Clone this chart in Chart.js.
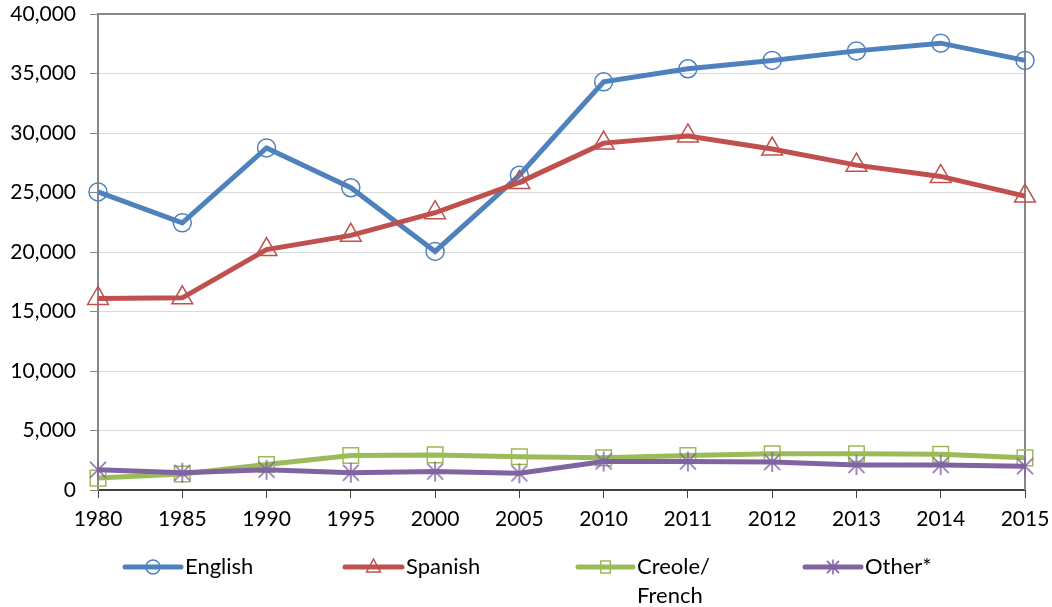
<!DOCTYPE html>
<html>
<head>
<meta charset="utf-8">
<script src="https://cdn.jsdelivr.net/npm/chart.js@4.4.1/dist/chart.umd.min.js"></script>
<style>
  html, body { margin: 0; padding: 0; background: #fff; }
  #wrap { width: 1052px; height: 607px; position: relative; }
</style>
</head>
<body>
<div id="wrap"><canvas id="c" width="1052" height="607"></canvas></div>
<script>
const years = ['1980','1985','1990','1995','2000','2005','2010','2011','2012','2013','2014','2015'];
const english = [25050, 22450, 28750, 25400, 20050, 26450, 34300, 35400, 36100, 36900, 37550, 36100];
const spanish = [16100, 16150, 20200, 21400, 23300, 25850, 29150, 29750, 28650, 27300, 26350, 24700];
const creole  = [1000, 1350, 2150, 2900, 2950, 2800, 2700, 2900, 3050, 3050, 3000, 2700];
const other   = [1700, 1450, 1700, 1450, 1550, 1400, 2400, 2400, 2350, 2100, 2100, 2000];
const seriesNames = ['English', 'Spanish', 'Creole/\nFrench', 'Other*'];
const yTicks = [0, 5000, 10000, 15000, 20000, 25000, 30000, 35000, 40000];

const COLORS = ['#4F81BD', '#C0504D', '#9BBB59', '#8064A2'];
const FONT = 'Lato, "Open Sans", sans-serif';

function starCanvas(r, color) {
  const s = Math.ceil(r * 2 + 4);
  const cv = document.createElement('canvas');
  cv.width = s; cv.height = s;
  const g = cv.getContext('2d');
  g.strokeStyle = color; g.lineWidth = 1.5;
  const c = s / 2;
  const d = r * 0.8;
  g.beginPath();
  g.moveTo(c - d, c - d); g.lineTo(c + d, c + d);
  g.moveTo(c + d, c - d); g.lineTo(c - d, c + d);
  g.moveTo(c, c - r); g.lineTo(c, c + r);
  g.stroke();
  return cv;
}

function drawMarker(ctx, style, x, y, r, color) {
  ctx.save();
  ctx.strokeStyle = color; ctx.lineWidth = 1.5;
  ctx.beginPath();
  if (style === 'circle') {
    ctx.arc(x, y, r, 0, Math.PI * 2);
  } else if (style === 'triangle') {
    ctx.moveTo(x, y - r);
    ctx.lineTo(x + r * 0.866, y + r * 0.5 + 1);
    ctx.lineTo(x - r * 0.866, y + r * 0.5 + 1);
    ctx.closePath();
  } else if (style === 'rect') {
    ctx.rect(x - r * 0.6, y - r * 0.75, r * 1.2, r * 1.5);
  } else if (style === 'star') {
    const d = r * 0.8;
    ctx.moveTo(x - d, y - d); ctx.lineTo(x + d, y + d);
    ctx.moveTo(x + d, y - d); ctx.lineTo(x - d, y + d);
    ctx.moveTo(x, y - r); ctx.lineTo(x, y + r);
  }
  ctx.stroke();
  ctx.restore();
}

const legendItems = [
  { name: seriesNames[0], color: COLORS[0], style: 'circle', x1: 125, x2: 181, tx: 185, mr: 7 },
  { name: seriesNames[1], color: COLORS[1], style: 'triangle', x1: 345, x2: 402, tx: 406, mr: 8 },
  { name: seriesNames[2], color: COLORS[2], style: 'rect', x1: 578, x2: 633, tx: 637, mr: 8 },
  { name: seriesNames[3], color: COLORS[3], style: 'star', x1: 805, x2: 861, tx: 865, mr: 7 }
];

const framePlugin = {
  id: 'frame',
  beforeDatasetsDraw(chart) {
    const { ctx, chartArea: a } = chart;
    ctx.save();
    ctx.strokeStyle = '#878787';
    ctx.lineWidth = 2;
    ctx.beginPath();
    ctx.moveTo(a.left, a.top);
    ctx.lineTo(a.right, a.top);
    ctx.lineTo(a.right, a.bottom);
    ctx.stroke();
    ctx.restore();
  },
  afterDraw(chart) {
    const ctx = chart.ctx;
    const y = 567;
    ctx.save();
    legendItems.forEach(it => {
      ctx.strokeStyle = it.color;
      ctx.lineWidth = 5;
      ctx.lineCap = 'round';
      ctx.beginPath();
      ctx.moveTo(it.x1, y);
      ctx.lineTo(it.x2, y);
      ctx.stroke();
      drawMarker(ctx, it.style, (it.x1 + it.x2) / 2, y, it.mr, it.color);
      ctx.fillStyle = '#000';
      ctx.font = '22px ' + FONT;
      ctx.textBaseline = 'middle';
      ctx.textAlign = 'left';
      it.name.split('\n').forEach((ln, i) => ctx.fillText(ln, it.tx, y + i * 29));
    });
    ctx.restore();
  }
};

const markerStyles = ['circle', 'triangle', 'rect', starCanvas(10, COLORS[3])];
const markerRadius = [9, 12, 11, 10];
const dataArrays = [english, spanish, creole, other];

new Chart(document.getElementById('c'), {
  type: 'line',
  data: {
    labels: years,
    datasets: dataArrays.map((d, i) => ({
      label: seriesNames[i].replace('\n', ' '),
      data: d,
      borderColor: COLORS[i],
      backgroundColor: COLORS[i],
      borderWidth: 5,
      pointStyle: markerStyles[i],
      pointRadius: markerRadius[i],
      pointBorderColor: COLORS[i],
      pointBackgroundColor: 'rgba(0,0,0,0)',
      pointBorderWidth: 1.5,
      tension: 0,
      order: 4 - i
    }))
  },
  options: {
    responsive: false,
    animation: false,
    devicePixelRatio: 1,
    layout: { padding: { top: 14, right: 27, left: 0, bottom: 0 } },
    plugins: { legend: { display: false }, tooltip: { enabled: false } },
    scales: {
      x: {
        offset: false,
        grid: { display: true, drawOnChartArea: false, drawTicks: true, tickLength: 8, color: '#404040', lineWidth: 1 },
        border: { display: true, color: '#404040', width: 2 },
        ticks: { color: '#000', font: { family: FONT, size: 21 }, padding: 9, maxRotation: 0, autoSkip: false },
        afterFit(s) { s.height = 117; s.paddingLeft = 0; s.paddingRight = 0; }
      },
      y: {
        min: 0, max: 40000,
        afterBuildTicks(s) { s.ticks = yTicks.map(v => ({ value: v })); },
        grid: { color: '#D9D9D9', lineWidth: 1, tickLength: 8, tickColor: '#878787' },
        border: { display: true, color: '#878787', width: 2 },
        ticks: {
          color: '#000', font: { family: FONT, size: 21 }, padding: 14,
          callback: v => v.toLocaleString('en-US')
        },
        afterFit(s) { s.width = 98; s.paddingTop = 0; s.paddingBottom = 0; }
      }
    }
  },
  plugins: [framePlugin]
});
</script>
</body>
</html>
